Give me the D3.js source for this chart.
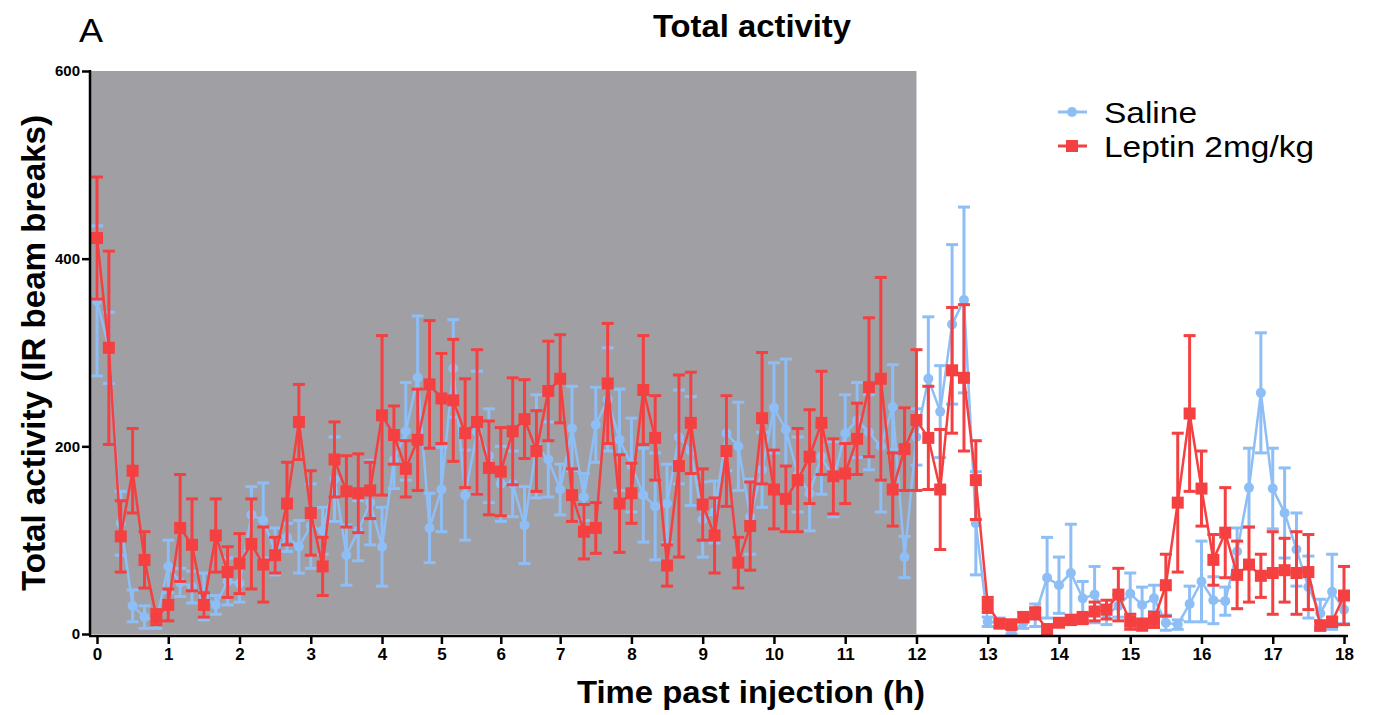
<!DOCTYPE html>
<html>
<head>
<meta charset="utf-8">
<script src="https://cdn.jsdelivr.net/npm/d3@7"></script>
<style>
  body { margin: 0; background: #fff; }
  svg { display: block; }
</style>
</head>
<body>
<script>
// Tick labels (hours) and the data bin at which each label sits
var tickHours = [0, 1, 2, 3, 4, 5, 6, 7, 8, 9, 10, 11, 12, 13, 14, 15, 16, 17, 18]
var tickIndex = [0, 6, 12, 18, 24, 29, 34, 39, 45, 51, 57, 63, 69, 75, 81, 87, 93, 99, 105]
var yTicks = [0, 200, 400, 600]

// Saline: mean and SEM per bin
var salineMean = [355, 305, 118, 30, 18, 14, 72, 55, 50, 40, 31, 56, 54, 127, 121, 88, 103, 93, 115, 110,
  165, 84, 110, 140, 93, 185, 216, 273, 113, 154, 283, 148, 215, 190, 160, 160, 116, 200, 186, 154,
  219, 146, 223, 250, 207, 180, 148, 136, 139, 210, 195, 122, 130, 214, 200, 125, 175, 241, 218, 170,
  150, 189, 165, 214, 228, 215, 200, 242, 82, 210, 272, 237, 330, 356, 118, 13, 12, 2, 12, 20,
  60, 52, 65, 38, 42, 20, 30, 43, 31, 38, 12, 10, 32, 56, 36, 35, 88, 156, 257, 155,
  129, 90, 50, 22, 45, 26]
var salineSem = [80, 38, 34, 17, 12, 8, 28, 15, 17, 25, 10, 25, 20, 30, 40, 25, 15, 28, 45, 25,
  45, 32, 32, 45, 42, 30, 52, 66, 37, 45, 52, 48, 65, 50, 40, 35, 41, 55, 40, 27,
  45, 25, 40, 55, 54, 50, 50, 57, 42, 50, 58, 40, 33, 40, 47, 40, 40, 48, 75, 40,
  40, 40, 40, 41, 40, 40, 70, 45, 22, 30, 66, 49, 85, 99, 55, 5, 5, 5, 6, 12,
  43, 30, 52, 18, 30, 10, 12, 22, 19, 14, 8, 5, 19, 43, 25, 15, 25, 42, 64, 43,
  48, 39, 33, 15, 40, 15]

// Leptin 2mg/kg: mean and SEM per bin
var leptinMean = [422, 305, 104, 174, 79, 18, 31, 113, 95, 31, 105, 66, 75, 96, 74, 84, 139, 226, 129, 72,
  186, 152, 150, 153, 233, 212, 176, 207, 266, 251, 249, 214, 226, 177, 173, 216, 229, 195, 259, 272,
  148, 109, 113, 267, 139, 150, 260, 209, 73, 179, 225, 138, 105, 195, 76, 115, 230, 154, 144, 164,
  189, 225, 168, 171, 208, 263, 272, 154, 197, 228, 209, 154, 281, 273, 164, 31, 11, 10, 18, 22,
  5, 12, 15, 17, 24, 26, 42, 13, 10, 15, 52, 140, 235, 155, 79, 108, 63, 74, 62, 65,
  68, 65, 66, 9, 13, 41]
var leptinSem = [65, 103, 38, 45, 30, 8, 17, 57, 49, 13, 39, 27, 32, 48, 40, 19, 44, 40, 45, 31,
  40, 38, 42, 30, 85, 31, 30, 54, 68, 48, 65, 58, 77, 50, 47, 57, 42, 43, 53, 47,
  28, 29, 27, 64, 52, 32, 58, 45, 22, 97, 54, 38, 40, 59, 27, 47, 70, 42, 35, 55,
  50, 55, 40, 32, 38, 74, 108, 39, 44, 75, 55, 64, 67, 78, 42, 8, 4, 5, 5, 6,
  5, 4, 5, 6, 10, 10, 28, 8, 6, 8, 33, 74, 83, 40, 27, 48, 36, 40, 23, 44,
  34, 44, 40, 5, 5, 31]

var seriesNames = ["Saline", "Leptin 2mg/kg"]
var darkEndHour = 12

var font = "'Liberation Sans', Arial, sans-serif"
var blue = "rgb(142, 190, 246)"
var red = "rgb(244, 64, 64)"

var w = 1373
var h = 715

var svg = d3.select("body")
  .append("svg")
  .attr("width", w)
  .attr("height", h)

// Scales: x runs over the bin index, y over beam breaks
var xScale = d3.scaleLinear()
  .domain([0, 105])
  .range([97, 1344])

var yScale = d3.scaleLinear()
  .domain([0, 600])
  .range([634, 71])
  .clamp(true)

// Grey box for the dark phase
var darkEnd = tickIndex[tickHours.indexOf(darkEndHour)]
svg.append("rect")
  .attr("x", 91)
  .attr("y", yScale(600))
  .attr("width", xScale(darkEnd) - 91)
  .attr("height", yScale(0) - yScale(600))
  .attr("fill", "rgb(160, 159, 164)")

// Draws one series: error bars, connecting line and markers
function drawSeries(means, sems, color, shape){
  var g = svg.append("g")
  var data = means.map(function(d, i){ return {i: i, m: d, s: sems[i]} })

  g.selectAll(".bar")
    .data(data)
    .enter()
    .append("line")
    .attr("x1", function(d){ return xScale(d.i) })
    .attr("x2", function(d){ return xScale(d.i) })
    .attr("y1", function(d){ return yScale(d.m - d.s) })
    .attr("y2", function(d){ return yScale(d.m + d.s) })
    .attr("stroke", color)
    .attr("stroke-width", 3)

  // caps on both ends
  ;[1, -1].forEach(function(sign){
    g.selectAll(".cap" + sign)
      .data(data)
      .enter()
      .append("line")
      .attr("x1", function(d){ return xScale(d.i) - 6 })
      .attr("x2", function(d){ return xScale(d.i) + 6 })
      .attr("y1", function(d){ return yScale(d.m + sign * d.s) })
      .attr("y2", function(d){ return yScale(d.m + sign * d.s) })
      .attr("stroke", color)
      .attr("stroke-width", 3)
  })

  var line = d3.line()
    .x(function(d){ return xScale(d.i) })
    .y(function(d){ return yScale(d.m) })

  g.append("path")
    .datum(data)
    .attr("d", line)
    .attr("fill", "none")
    .attr("stroke", color)
    .attr("stroke-width", 2.5)

  if (shape == "circle"){
    g.selectAll("circle")
      .data(data)
      .enter()
      .append("circle")
      .attr("cx", function(d){ return xScale(d.i) })
      .attr("cy", function(d){ return yScale(d.m) })
      .attr("r", 5)
      .attr("fill", color)
  } else {
    g.selectAll("rect")
      .data(data)
      .enter()
      .append("rect")
      .attr("x", function(d){ return xScale(d.i) - 6 })
      .attr("y", function(d){ return yScale(d.m) - 6 })
      .attr("width", 12)
      .attr("height", 12)
      .attr("fill", color)
  }
}

drawSeries(salineMean, salineSem, blue, "circle")
drawSeries(leptinMean, leptinSem, red, "square")

// Axes
var yAxis = svg.append("g")
  .attr("transform", "translate(90,0)")
  .call(d3.axisLeft(yScale).tickValues(yTicks).tickSize(8).tickPadding(2))

var xAxis = svg.append("g")
  .attr("transform", "translate(0,636)")
  .call(d3.axisBottom(xScale).tickValues(tickIndex).tickSize(8).tickPadding(4)
    .tickFormat(function(d){ return tickHours[tickIndex.indexOf(d)] }))

yAxis.select(".domain").attr("d", "M0,70V636").attr("stroke-width", 2.5)
xAxis.select(".domain").attr("d", "M89,0H1348").attr("stroke-width", 2.5)

svg.selectAll(".tick line").attr("stroke-width", 2.5)
yAxis.selectAll("text").style("font-family", font).style("font-size", "15px")
  .style("font-weight", "bold").attr("fill", "#000")
xAxis.selectAll("text").style("font-family", font).style("font-size", "17px")
  .style("font-weight", "bold").attr("fill", "#000")

// Title, panel letter and axis titles
svg.append("text")
  .attr("x", 653).attr("y", 37)
  .attr("textLength", 198).attr("lengthAdjust", "spacingAndGlyphs")
  .style("font-family", font).style("font-size", "31px").style("font-weight", "bold")
  .text("Total activity")

svg.append("text")
  .attr("x", 79).attr("y", 42)
  .attr("textLength", 24).attr("lengthAdjust", "spacingAndGlyphs")
  .style("font-family", font).style("font-size", "33px")
  .text("A")

svg.append("text")
  .attr("transform", "translate(45, 591) rotate(-90)")
  .attr("textLength", 476).attr("lengthAdjust", "spacingAndGlyphs")
  .style("font-family", font).style("font-size", "33px").style("font-weight", "bold")
  .text("Total activity (IR beam breaks)")

svg.append("text")
  .attr("x", 577).attr("y", 703)
  .attr("textLength", 348).attr("lengthAdjust", "spacingAndGlyphs")
  .style("font-family", font).style("font-size", "31px").style("font-weight", "bold")
  .text("Time past injection (h)")

// Legend
var legendColors = [blue, red]
seriesNames.forEach(function(name, i){
  var y = 112 + i * 34
  svg.append("line")
    .attr("x1", 1058).attr("x2", 1087).attr("y1", y).attr("y2", y)
    .attr("stroke", legendColors[i]).attr("stroke-width", 3)
  if (i == 0){
    svg.append("circle").attr("cx", 1072).attr("cy", y).attr("r", 5).attr("fill", legendColors[i])
  } else {
    svg.append("rect").attr("x", 1066).attr("y", y - 6).attr("width", 12).attr("height", 12)
      .attr("fill", legendColors[i])
  }
  svg.append("text")
    .attr("x", 1104).attr("y", y + 11)
    .attr("textLength", i == 0 ? 93 : 210).attr("lengthAdjust", "spacingAndGlyphs")
    .style("font-family", font).style("font-size", "30px")
    .text(name)
})
</script>
</body>
</html>
